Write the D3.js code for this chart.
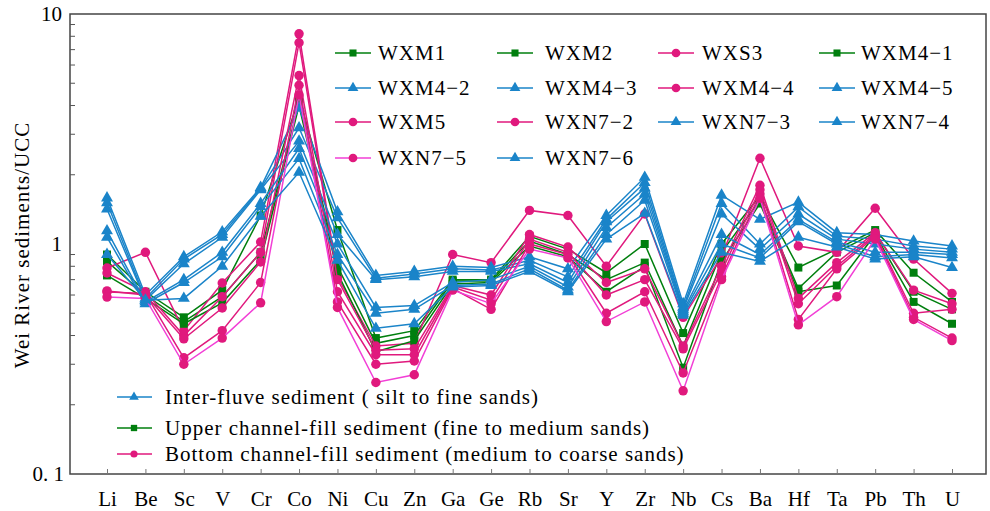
<!DOCTYPE html>
<html>
<head>
<meta charset="utf-8">
<script src="https://cdn.jsdelivr.net/npm/d3@7"></script>
<style>
  body { margin: 0; background: #fff; }
  text { font-family: "Liberation Serif", "Times New Roman", serif; }
</style>
</head>
<body>
<svg id="chart" width="990" height="511"></svg>
<script>
var elements = ["Li","Be","Sc","V","Cr","Co","Ni","Cu","Zn","Ga","Ge","Rb","Sr","Y","Zr","Nb","Cs","Ba","Hf","Ta","Pb","Th","U"]

// upper channel-fill (green squares)
var WXM1   = [0.90,0.62,0.48,0.63,1.33,4.3,1.15,0.39,0.42,0.70,0.70,1.08,0.95,0.75,1.00,0.41,1.00,1.62,0.79,0.95,1.15,0.75,0.56]
var WXM2   = [0.84,0.60,0.46,0.59,0.92,4.1,0.80,0.37,0.40,0.69,0.69,1.03,0.90,0.70,0.83,0.36,0.92,1.55,0.64,0.92,1.12,0.62,0.52]
var WXM4_1 = [0.73,0.58,0.45,0.555,0.85,4.0,0.75,0.34,0.38,0.67,0.68,0.98,0.88,0.62,0.80,0.29,0.84,1.50,0.62,0.66,1.10,0.56,0.45]
// bottom channel-fill (pink circles)
var WXS3   = [0.786,0.92,0.42,0.677,1.02,8.2,0.72,0.36,0.37,0.90,0.83,1.40,1.33,0.80,1.35,0.48,0.88,2.36,0.98,0.92,1.43,0.86,0.61]
var WXM4_4 = [0.748,0.62,0.40,0.59,0.92,7.5,0.70,0.345,0.35,0.66,0.60,1.10,0.97,0.68,0.78,0.36,0.80,1.80,0.58,0.83,1.12,0.63,0.55]
var WXM5   = [0.625,0.60,0.387,0.527,0.835,5.4,0.62,0.33,0.33,0.65,0.57,1.05,0.92,0.60,0.70,0.35,0.76,1.72,0.55,0.80,1.10,0.50,0.52]
var WXN7_2 = [0.618,0.61,0.32,0.42,0.68,4.9,0.56,0.30,0.31,0.64,0.52,1.00,0.90,0.50,0.62,0.275,0.72,1.65,0.47,0.78,1.08,0.48,0.39]
var WXN7_5 = [0.588,0.58,0.30,0.39,0.555,4.45,0.53,0.25,0.27,0.63,0.55,0.95,0.87,0.46,0.56,0.23,0.70,1.58,0.445,0.59,1.05,0.47,0.38]
// inter-fluve (blue triangles)
var WXM4_2 = [1.585,0.60,0.88,1.13,1.76,3.9,1.38,0.73,0.76,0.80,0.79,0.88,0.78,1.33,1.95,0.55,1.63,1.28,1.52,1.12,1.10,1.03,0.98]
var WXM4_3 = [1.51,0.58,0.86,1.10,1.74,3.2,1.30,0.71,0.74,0.78,0.77,0.85,0.72,1.28,1.85,0.53,1.50,1.00,1.45,1.08,1.05,0.98,0.95]
var WXM4_5 = [1.42,0.57,0.82,1.07,1.72,2.8,1.10,0.70,0.72,0.76,0.76,0.82,0.68,1.25,1.75,0.52,1.35,0.95,1.35,1.05,1.00,0.95,0.92]
var WXN7_3 = [1.14,0.56,0.70,0.92,1.50,2.6,1.00,0.53,0.54,0.68,0.70,0.80,0.65,1.18,1.65,0.51,1.10,0.90,1.28,1.02,0.92,0.92,0.90]
var WXN7_4 = [1.07,0.55,0.68,0.88,1.45,2.35,0.90,0.50,0.52,0.66,0.67,0.78,0.63,1.10,1.55,0.50,1.00,0.87,1.25,1.00,0.88,0.90,0.87]
var WXN7_6 = [0.90,0.57,0.58,0.80,1.32,2.05,0.85,0.43,0.45,0.65,0.66,0.76,0.62,1.05,1.36,0.49,0.92,0.84,1.07,0.97,0.86,0.88,0.79]

var yTicks = [0.1, 1, 10]
var yTickLabels = ["0. 1", "1", "10"]

var green = "#007f0e", pink = "#e0197d", blue = "#1a84c9", magenta = "#f23fd6"

var series = [
  {name: "WXM1", values: WXM1, type: "sq", color: green, marker: green},
  {name: "WXM2", values: WXM2, type: "sq", color: green, marker: green},
  {name: "WXS3", values: WXS3, type: "ci", color: pink, marker: pink},
  {name: "WXM4\u22121", values: WXM4_1, type: "sq", color: green, marker: green},
  {name: "WXM4\u22122", values: WXM4_2, type: "tr", color: blue, marker: blue},
  {name: "WXM4\u22123", values: WXM4_3, type: "tr", color: blue, marker: blue},
  {name: "WXM4\u22124", values: WXM4_4, type: "ci", color: pink, marker: pink},
  {name: "WXM4\u22125", values: WXM4_5, type: "tr", color: blue, marker: blue},
  {name: "WXM5", values: WXM5, type: "ci", color: pink, marker: pink},
  {name: "WXN7\u22122", values: WXN7_2, type: "ci", color: pink, marker: pink},
  {name: "WXN7\u22123", values: WXN7_3, type: "tr", color: blue, marker: blue},
  {name: "WXN7\u22124", values: WXN7_4, type: "tr", color: blue, marker: blue},
  {name: "WXN7\u22125", values: WXN7_5, type: "ci", color: magenta, marker: pink},
  {name: "WXN7\u22126", values: WXN7_6, type: "tr", color: blue, marker: blue}
]

var groups = [
  {name: "Inter-fluve sediment ( silt to fine  sands)", type: "tr", color: blue},
  {name: "Upper channel-fill sediment (fine to medium sands)", type: "sq", color: green},
  {name: "Bottom channel-fill sediment (medium to coarse sands)", type: "ci", color: pink}
]

var svg = d3.select("#chart")
var margin = {left: 70, right: 4, top: 14, bottom: 37}
var width = 990, height = 511

var x = d3.scalePoint()
  .domain(elements)
  .range([107, 952])
var y = d3.scaleLog()
  .domain([0.1, 10])
  .range([height - margin.bottom, margin.top])

var symType = {sq: d3.symbolSquare, ci: d3.symbolCircle, tr: d3.symbolTriangle}
var symSize = {sq: 64, ci: 70, tr: 62}
function sym(t, s) { return d3.symbol().type(symType[t]).size(s || symSize[t])() }

// frame
svg.append("rect")
  .attr("x", margin.left).attr("y", margin.top)
  .attr("width", width - margin.right - margin.left)
  .attr("height", height - margin.bottom - margin.top)
  .attr("fill", "none").attr("stroke", "#444").attr("stroke-width", 1.5)

// y minor ticks
var minor = []
;[0.1, 1].forEach(b => { for (var k = 2; k <= 9; k++) minor.push(b * k) })
svg.append("g").selectAll("line").data(minor).enter().append("line")
  .attr("x1", margin.left).attr("x2", margin.left + 5)
  .attr("y1", d => y(d)).attr("y2", d => y(d))
  .attr("stroke", "#555").attr("stroke-width", 1)

svg.append("g").selectAll("text").data(yTicks).enter().append("text")
  .attr("x", (d, i) => i == 0 ? 64 : 62)
  .attr("y", d => y(d) + 7)
  .attr("text-anchor", "end")
  .style("font-size", "21px")
  .text((d, i) => yTickLabels[i])

// x ticks
var xAxis = g => g
  .attr("transform", `translate(0,${height - margin.bottom})`)
  .call(d3.axisBottom(x).tickSizeInner(-5).tickSizeOuter(0).tickPadding(17))
  .call(g => g.select(".domain").remove())
  .call(g => g.selectAll(".tick line").attr("stroke", "#777"))
  .call(g => g.selectAll(".tick text")
    .attr("font-family", "Liberation Serif, serif")
    .attr("font-size", 21).attr("fill", "#000"))
svg.append("g").call(xAxis)

svg.append("text")
  .attr("transform", "translate(29,245) rotate(-90)")
  .attr("text-anchor", "middle")
  .style("font-size", "21px")
  .style("letter-spacing", "1px")
  .text("Wei River sediments/UCC")

// lines
var line = d3.line()
  .x((d, i) => x(elements[i]))
  .y(d => y(d))

var sg = svg.append("g").selectAll("g").data(series).enter().append("g")
sg.append("path")
  .attr("d", d => line(d.values))
  .attr("fill", "none")
  .attr("stroke", d => d.color)
  .attr("stroke-width", 1.5)
sg.selectAll("path.m").data(d => d.values.map(v => ({v: v, s: d}))).enter().append("path")
  .attr("class", "m")
  .attr("transform", (d, i) => `translate(${x(elements[i])},${y(d.v)})`)
  .attr("d", d => sym(d.s.type))
  .attr("fill", d => d.s.marker)

// top legend
var colX = [335, 497, 658, 819]
var textX = [378, 545, 702, 861]
var rowY = [53, 88, 122, 158]
var lg = svg.append("g").selectAll("g").data(series).enter().append("g")
  .attr("transform", (d, i) => `translate(${colX[i % 4]},${rowY[Math.floor(i / 4)]})`)
lg.append("line").attr("x1", 0).attr("x2", 36)
  .attr("stroke", d => d.color).attr("stroke-width", 1.5)
lg.append("path").attr("transform", "translate(18,0)")
  .attr("d", d => sym(d.type, d.type == "ci" ? 60 : 50)).attr("fill", d => d.marker)
lg.append("text")
  .attr("x", (d, i) => textX[i % 4] - colX[i % 4])
  .attr("y", 7)
  .style("font-size", "21px")
  .style("letter-spacing", "1px")
  .text(d => d.name)

// bottom legend
var bl = svg.append("g").selectAll("g").data(groups).enter().append("g")
  .attr("transform", (d, i) => `translate(117,${[397, 428, 454][i]})`)
bl.append("line").attr("x1", 0).attr("x2", 35)
  .attr("stroke", d => d.color).attr("stroke-width", 1.5)
bl.append("path").attr("transform", "translate(17,0)")
  .attr("d", d => sym(d.type, 40)).attr("fill", d => d.color)
bl.append("text")
  .attr("x", 48).attr("y", 7)
  .style("font-size", "21px")
  .style("letter-spacing", "1px")
  .text(d => d.name)
</script>
</body>
</html>
